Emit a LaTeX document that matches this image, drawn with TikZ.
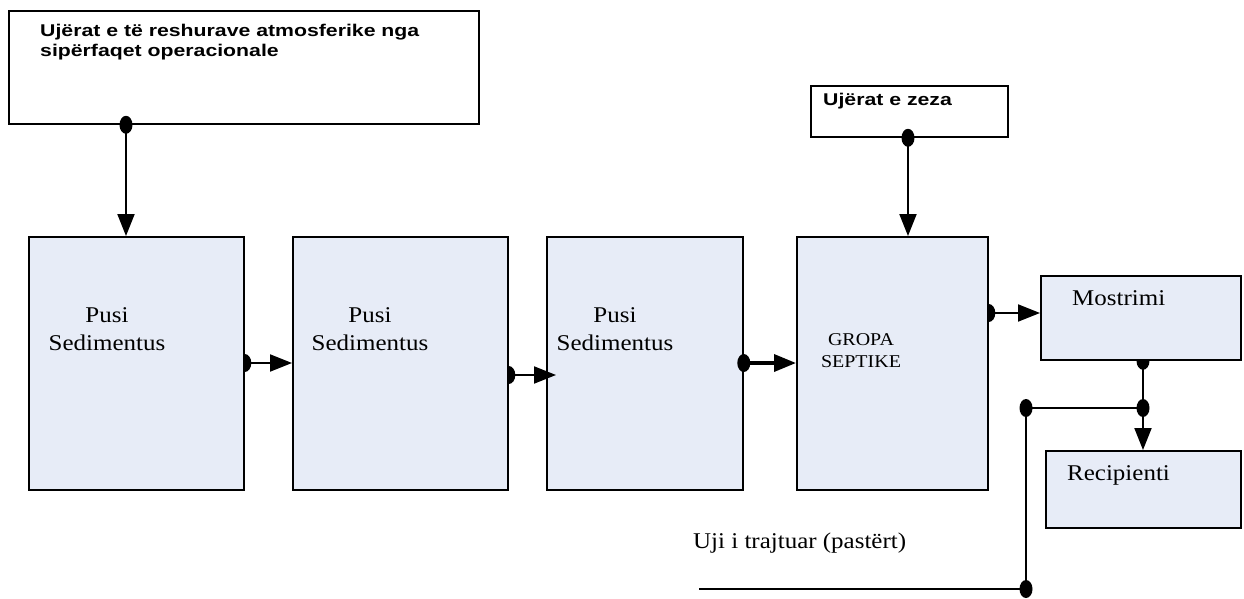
\documentclass[tikz,border=0pt]{standalone}
\usepackage{fontspec}
\setmainfont{Liberation Serif}[FakeStretch=1.11]
\setsansfont{Liberation Sans}[FakeStretch=1.25]
\usetikzlibrary{arrows.meta}
\definecolor{boxfill}{RGB}{231,236,247}
\pgfdeclarelayer{bg}
\pgfsetlayers{bg,main}
\tikzset{
  wbox/.style={draw=black, line width=1.8pt, fill=white, rectangle, inner sep=0pt, anchor=north west},
  pbox/.style={draw=black, line width=1.8pt, fill=boxfill, rectangle, inner sep=0pt, anchor=north west},
  lbl/.style={inner sep=0pt, font=\fontsize{22.5}{28}\selectfont, align=center},
  hdr/.style={inner sep=0pt, font=\sffamily\bfseries\fontsize{17}{20}\selectfont, align=left},
  conn/.style={line width=2pt, -{Triangle[length=22pt,width=17pt]}},
  plain/.style={line width=2pt},
  dot/.style={fill=black}
}
\begin{document}
\begin{tikzpicture}[x=1pt,y=-1pt]
\useasboundingbox (0,0) rectangle (1244,598);
% boxes
\node[wbox, minimum width=470pt, minimum height=113pt] (top) at (8,10) {};
\node[wbox, minimum width=197pt, minimum height=51pt] (zeza) at (810,85) {};
\node[pbox, minimum width=215pt, minimum height=253pt] (b1) at (28,236) {};
\node[pbox, minimum width=215pt, minimum height=253pt] (b2) at (292,236) {};
\node[pbox, minimum width=196pt, minimum height=253pt] (b3) at (546,236) {};
\node[pbox, minimum width=191pt, minimum height=253pt] (b4) at (796,236) {};
\node[pbox, minimum width=200pt, minimum height=84pt] (most) at (1040,275) {};
\node[pbox, minimum width=195pt, minimum height=77pt] (recip) at (1045,450) {};
% texts
\node[hdr, anchor=north west] (ttop) at (40,23.5) {Ujërat e të reshurave atmosferike nga\\sipërfaqet operacionale};
\node[hdr, anchor=base west] (tzeza) at (823,105) {Ujërat e zeza};
\node[lbl, anchor=north] (t1) at (107,307) {Pusi\\Sedimentus};
\node[lbl, anchor=north] (t2) at (370,307) {Pusi\\Sedimentus};
\node[lbl, anchor=north] (t3) at (615,307) {Pusi\\Sedimentus};
\node[lbl, anchor=north, font=\fontsize{18}{22}\selectfont] (t4) at (861,333) {GROPA\\SEPTIKE};
\node[lbl, anchor=base west] (tmost) at (1072,305) {Mostrimi};
\node[lbl, anchor=base west] (trecip) at (1067,480) {Recipienti};
\node[lbl, anchor=base west] (tuji) at (693,548) {Uji i trajtuar (pastërt)};
% junction coordinates
\coordinate (j1) at (1143,408);
\coordinate (j2) at (1026,408);
\coordinate (j3) at (1026,589);
\coordinate (lend) at (699,589);
% half dots behind boxes
\begin{pgfonlayer}{bg}
\fill[dot] ([yshift=-127pt]b1.north east) ellipse (6.5pt and 9pt);
\fill[dot] ([yshift=-139pt]b2.north east) ellipse (6.5pt and 9pt);
\fill[dot] ([yshift=-77pt]b4.north east) ellipse (6.5pt and 9pt);
\fill[dot] (most.south -| j1) ellipse (6.5pt and 9pt);
\end{pgfonlayer}
% connectors
\draw[conn] ([xshift=118pt]top.south west) -- ([xshift=98pt]b1.north west);
\draw[conn] ([xshift=98pt]zeza.south west) -- ([xshift=112pt]b4.north west);
\draw[conn] ([yshift=-127pt]b1.north east) -- ([yshift=-127pt]b2.north west);
\draw[conn] ([yshift=-139pt]b2.north east) -- ([yshift=-139pt,xshift=10pt]b3.north west);
\draw[conn, line width=3.5pt] ([yshift=-127pt]b3.north east) -- ([yshift=-127pt]b4.north west);
\draw[conn] ([yshift=-77pt]b4.north east) -- ([yshift=-38pt]most.north west);
\draw[conn] (most.south -| j1) -- (recip.north -| j1);
\draw[plain] (j1) -- (j2) -- (j3) -- (lend);
% full dots
\fill[dot] ([xshift=118pt]top.south west) ellipse (6.5pt and 9pt);
\fill[dot] ([xshift=98pt]zeza.south west) ellipse (6.5pt and 9pt);
\fill[dot] ([yshift=-127pt]b3.north east) ellipse (6.5pt and 9pt);
\fill[dot] (j1) ellipse (6.5pt and 9pt);
\fill[dot] (j2) ellipse (6.5pt and 9pt);
\fill[dot] (j3) ellipse (6.5pt and 9pt);
\end{tikzpicture}
\end{document}
